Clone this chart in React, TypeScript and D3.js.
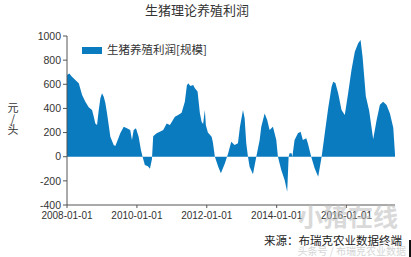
import React from "react";
import * as d3 from "d3";

const title = "生猪理论养殖利润";
const seriesName = "生猪养殖利润[规模]";
const yUnit = "元/头";
const sourceText = "来源：布瑞克农业数据终端";
const watermark = "小猪在线";
const watermark2 = "头条号 / 布瑞克农业数据";

const yTicks = [1000, 800, 600, 400, 200, 0, -200, -400];
const xTicks = ["2008-01-01", "2010-01-01", "2012-01-01", "2014-01-01", "2016-01-01"];
const xDomain = ["2008-01-01", "2017-05-22"];

const dates = [
  "2008-01-01", "2008-01-25", "2008-02-22", "2008-03-28", "2008-05-03", "2008-06-07", "2008-07-11",
  "2008-08-15", "2008-09-19", "2008-10-07", "2008-10-23", "2008-11-10", "2008-11-28", "2008-12-15",
  "2009-01-01", "2009-01-19", "2009-02-05", "2009-02-22", "2009-03-12", "2009-03-29", "2009-05-03",
  "2009-05-20", "2009-06-07", "2009-07-11", "2009-08-16", "2009-09-19", "2009-10-23", "2009-11-10",
  "2009-11-28", "2009-12-22", "2010-01-19", "2010-02-12", "2010-03-01", "2010-03-25", "2010-04-26",
  "2010-05-17", "2010-06-07", "2010-06-20", "2010-07-26", "2010-08-29", "2010-10-03", "2010-11-08",
  "2010-12-12", "2011-02-02", "2011-03-08", "2011-04-13", "2011-05-17", "2011-06-07", "2011-06-21",
  "2011-07-14", "2011-08-12", "2011-08-30", "2011-09-27", "2011-10-21", "2011-11-08", "2011-11-24",
  "2011-12-12", "2011-12-23", "2012-01-13", "2012-02-21", "2012-03-05", "2012-03-26", "2012-04-30",
  "2012-05-28", "2012-07-09", "2012-08-12", "2012-09-13", "2012-10-18", "2012-11-22", "2012-12-13",
  "2013-01-14", "2013-01-31", "2013-02-17", "2013-03-07", "2013-03-24", "2013-04-28", "2013-06-02",
  "2013-07-07", "2013-07-24", "2013-08-28", "2013-09-24", "2013-10-19", "2013-11-23", "2013-12-28",
  "2014-01-14", "2014-02-18", "2014-03-25", "2014-04-21", "2014-05-06", "2014-05-16", "2014-06-06",
  "2014-06-14", "2014-07-07", "2014-08-11", "2014-09-08", "2014-10-02", "2014-11-06", "2014-11-23",
  "2014-12-28", "2015-02-02", "2015-03-11", "2015-04-16", "2015-05-20", "2015-06-23", "2015-07-29",
  "2015-08-15", "2015-09-07", "2015-10-06", "2015-11-10", "2015-12-14", "2016-01-18", "2016-02-22",
  "2016-03-28", "2016-05-02", "2016-05-27", "2016-06-17", "2016-07-21", "2016-08-25", "2016-10-06",
  "2016-11-10", "2016-12-15", "2017-01-18", "2017-02-23", "2017-03-30", "2017-05-04", "2017-05-22",
];

const profits = [
  677, 690, 663, 635, 608, 511, 456,
  409, 387, 332, 276, 262, 387, 484,
  525, 497, 445, 362, 262, 166, 97,
  89, 124, 194, 249, 235, 221, 138,
  221, 235, 166, 55, 0, -69, -80,
  -100, -20, 170, 194, 207, 221, 275,
  262, 332, 346, 365, 456, 590, 608,
  585, 594, 567, 540, 362, 290, 270,
  387, 260, 200, 166, 120, 0, -83,
  -138, -55, 28, 124, 97, 111, 249,
  387, 318, 111, 0, -83, -145, 0,
  138, 249, 359, 304, 221, 249, 138,
  0, -110, -193, -290, 0, 28, 28,
  0, 138, 194, 207, 138, 152, 111,
  0, -96, -166, 0, 200, 400, 580,
  621, 610, 525, 387, 345, 525, 718,
  870, 939, 967, 828, 500, 380, 145,
  300, 430, 456, 428, 359, 240, 20,
];

const W = 411;
const H = 257;
const left = 67;
const right = 395;
const top = 36;
const bottom = 205;
const fillColor = "#0b7bc0";
const axisColor = "#555";
const textColor = "#333";
const numFont = "'Liberation Sans', Arial, sans-serif";
const cjkFont = "'Noto Sans CJK SC', sans-serif";

export default function App() {
  const parse = d3.timeParse("%Y-%m-%d");
  const x = d3.scaleTime().domain(xDomain.map((d) => parse(d) as Date)).range([left, right]);
  const y = d3.scaleLinear().domain([-400, 1000]).range([bottom, top]);
  const data = dates.map((d, i) => ({ date: parse(d) as Date, v: profits[i] }));
  const area = d3
    .area<{ date: Date; v: number }>()
    .x((d) => x(d.date))
    .y0(y(0))
    .y1((d) => y(d.v));

  return (
    <svg
      width={W}
      height={H}
      style={{ position: "absolute", left: 0, top: 0, background: "#fff" }}
    >
      <rect x={0} y={0} width={W} height={H} fill="#fff" />
      <text x={197} y={15} textAnchor="middle" fontFamily={cjkFont} fontSize={13} fill={textColor}>
        {title}
      </text>

      <path d={area(data) || ""} fill={fillColor} />

      {/* y axis */}
      <line x1={left} x2={left} y1={top} y2={bottom} stroke={axisColor} strokeWidth={1} />
      {yTicks.map((t) => (
        <g key={t}>
          <line x1={left - 4} x2={left} y1={y(t)} y2={y(t)} stroke={axisColor} />
          <text
            x={left - 6}
            y={y(t)}
            dy="0.35em"
            textAnchor="end"
            fontFamily={numFont}
            fontSize={10.5}
            fill={textColor}
          >
            {t}
          </text>
        </g>
      ))}

      {/* x axis */}
      <line x1={left} x2={right} y1={bottom} y2={bottom} stroke={axisColor} strokeWidth={1} />
      {xTicks.map((t) => {
        const px = x(parse(t) as Date);
        return (
          <g key={t}>
            <line x1={px} x2={px} y1={bottom} y2={bottom + 3} stroke={axisColor} />
            <text
              x={px}
              y={219}
              textAnchor="middle"
              fontFamily={numFont}
              fontSize={10}
              fill={textColor}
            >
              {t}
            </text>
          </g>
        );
      })}

      {/* y unit (vertical) */}
      <text
        x={13}
        y={102}
        fontFamily={cjkFont}
        fontSize={11}
        fill={textColor}
        style={{ writingMode: "vertical-rl", textOrientation: "upright" } as React.CSSProperties}
      >
        {yUnit}
      </text>

      {/* legend */}
      <rect x={82} y={47} width={20} height={7} fill={fillColor} />
      <text x={107} y={54} fontFamily={cjkFont} fontSize={11.5} fill={textColor}>
        {seriesName}
      </text>

      {/* watermark */}
      <text
        x={348}
        y={226}
        textAnchor="middle"
        fontFamily={cjkFont}
        fontSize={25}
        fontWeight="bold"
        fill="#bbb"
        opacity={0.55}
      >
        {watermark}
      </text>

      {/* source */}
      <text x={402} y={245} textAnchor="end" fontFamily={cjkFont} fontSize={11.5} fill="#222">
        {sourceText}
      </text>
      <text x={406} y={255} textAnchor="end" fontFamily={cjkFont} fontSize={10} fill="#ccc" opacity={0.8}>
        {watermark2}
      </text>
      <rect x={409} y={240} width={2} height={17} fill="#111" />
    </svg>
  );
}
